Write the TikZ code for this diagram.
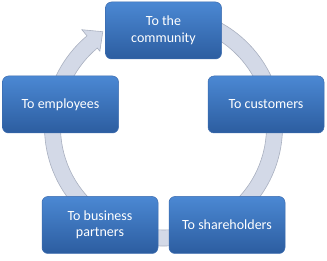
\documentclass[tikz,border=0pt]{standalone}
\usepackage{fontspec}
\setmainfont{Carlito}
\definecolor{boxtop}{HTML}{4B88D3}
\definecolor{boxbot}{HTML}{2C5DA0}
\definecolor{boxedge}{HTML}{3B6BAE}
\definecolor{ringfill}{HTML}{D3D9E7}
\definecolor{ringedge}{HTML}{A9B0C0}
\tikzset{
  stagebox/.style={rectangle, rounded corners=6pt, minimum width=116pt, minimum height=57pt,
    top color=boxtop, bottom color=boxbot, draw=boxedge, line width=0.5pt,
    text=white, align=center, font=\fontsize{14}{16.5}\selectfont, inner sep=2pt},
  ring/.style={fill=ringfill, draw=ringedge, line width=0.6pt}
}
\begin{document}
\begin{tikzpicture}[x=1pt,y=1pt]
\useasboundingbox (0,0) rectangle (327,260);
\begin{scope}[shift={(163.5,133)}]
\path[ring] (100:119) arc[start angle=100, end angle=-230, radius=119]
  -- (-230:127) -- (-237.5:113) -- (-230:99) -- (-230:103)
  arc[start angle=-230, end angle=100, radius=103] -- cycle;
\end{scope}
\node[stagebox] (community) at (163.5,229.5) {To the\\community};
\node[stagebox] (customers) at (266,155.5) {To customers};
\node[stagebox] (shareholders) at (227,35) {To shareholders};
\node[stagebox] (partners) at (100,35) {To business\\partners};
\node[stagebox] (employees) at (60.5,155.5) {To employees};
\end{tikzpicture}
\end{document}
